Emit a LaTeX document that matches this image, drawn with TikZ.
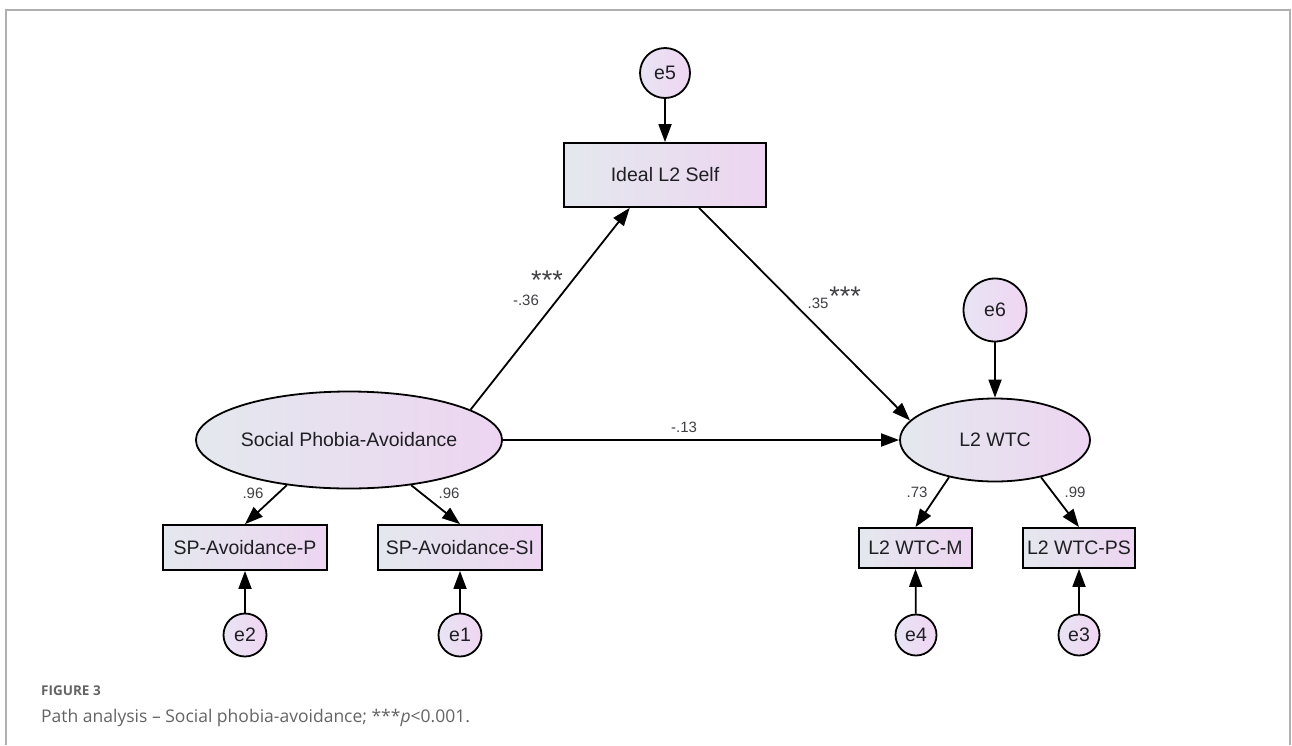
\documentclass[tikz,border=0pt]{standalone}
\usepackage{fontspec}
\setmainfont{Liberation Sans}
\newfontfamily\capfont{Open Sans}
\usetikzlibrary{shapes.geometric,arrows.meta,calc}
\definecolor{cl}{RGB}{228,232,238}
\definecolor{cr}{RGB}{237,213,241}
\definecolor{el}{RGB}{232,228,244}
\definecolor{er}{RGB}{240,214,242}
\definecolor{framec}{RGB}{176,176,176}
\definecolor{txt}{RGB}{30,30,35}
\definecolor{capgray}{RGB}{100,100,100}
\tikzset{
  conn/.style={line width=1.8pt, -{Triangle[length=18pt,width=13pt]}},
  latent/.style={ellipse, draw, line width=1.8pt, left color=cl, right color=cr, inner sep=0pt, text=txt, font=\fontsize{19.5}{22}\selectfont},
  obs/.style={rectangle, draw, line width=1.8pt, left color=cl, right color=cr, inner sep=0pt, text=txt, font=\fontsize{19.5}{22}\selectfont},
  err/.style={circle, draw, line width=1.8pt, left color=el, right color=er, inner sep=0pt, text=txt, font=\fontsize{19.5}{22}\selectfont},
  lbl/.style={font=\fontsize{15}{15}\selectfont, inner sep=0pt, text=txt!85},
  sig/.style={font=\fontsize{27}{27}\selectfont, inner sep=0pt, anchor=base, text depth=0pt, text=txt!85},
  captxt/.style={anchor=base west, inner sep=0pt, text=capgray},
}
\begin{document}
\begin{tikzpicture}[x=1pt,y=-1pt]
\useasboundingbox (0,0) rectangle (1292,745);
% frame
\draw[framec, line width=2pt] (6,745) -- (6,10) -- (1290,10) -- (1290,745);

% nodes
\node[err, minimum size=50pt] (e5) at (665,73) {e5};
\node[obs, minimum width=202pt, minimum height=64pt] (ideal) at (665,175) {Ideal L2 Self};
\node[latent, minimum width=246pt, minimum height=97pt] (spa) at (349,440) {Social Phobia-Avoidance};
\node[latent, minimum width=190pt, minimum height=83pt] (wtc) at (995,440) {L2 WTC};
\node[err, minimum size=63pt] (e6) at (995,310) {e6};
\node[obs, minimum width=164pt, minimum height=45pt] (spp) at (245,547.5) {SP-Avoidance-P};
\node[obs, minimum width=164pt, minimum height=45pt] (spsi) at (460,547.5) {SP-Avoidance-SI};
\node[obs, minimum width=113pt, minimum height=40pt] (wtcm) at (915.5,548) {L2 WTC-M};
\node[obs, minimum width=112pt, minimum height=40pt] (wtcps) at (1079,548) {L2 WTC-PS};
\node[err, minimum size=43pt] (e2) at (245,635) {e2};
\node[err, minimum size=43pt] (e1) at (460,635) {e1};
\node[err, minimum size=41pt] (e4) at (916,635) {e4};
\node[err, minimum size=41pt] (e3) at (1079,635) {e3};

% connectors
\draw[conn] (e5) -- (ideal.north);
\draw[conn] (spa.14) -- (ideal.223);
\draw[conn] (ideal.316) -- (wtc.167);
\draw[conn] (spa.east) -- (wtc.west);
\draw[conn] (e6) -- (wtc.north);
\draw[conn] (spa.216) -- (spp.north);
\draw[conn] (spa.324) -- (spsi.north);
\draw[conn] (wtc.219) -- (wtcm.north);
\draw[conn] (wtc.321) -- (wtcps.north);
\draw[conn] (e2) -- (spp.south);
\draw[conn] (e1) -- (spsi.south);
\draw[conn] (e4) -- (wtcm.south);
\draw[conn] (e3) -- (wtcps.south);

% labels
\node[lbl] (l1) at (253,493) {.96};
\node[lbl] (l2) at (449,493) {.96};
\node[lbl] (l3) at (917,492) {.73};
\node[lbl] (l4) at (1075,492) {.99};
\node[lbl] (l5) at (526,300) {-.36};
\node[lbl] (l6) at (818,303) {.35};
\node[lbl] (l7) at (684,427) {-.13};
\node[sig] (s1) at (547,289) {***};
\node[sig] (s2) at (845,305) {***};

% caption
\node[captxt, font=\capfont\bfseries\fontsize{13.5}{13.5}\selectfont] (fig) at (41,695) {FIGURE 3};
\node[captxt, font=\capfont\fontsize{17.5}{17.5}\selectfont] (cap) at (41,722) {Path analysis – Social phobia-avoidance; ***\textit{p}<0.001.};
\end{tikzpicture}
\end{document}
